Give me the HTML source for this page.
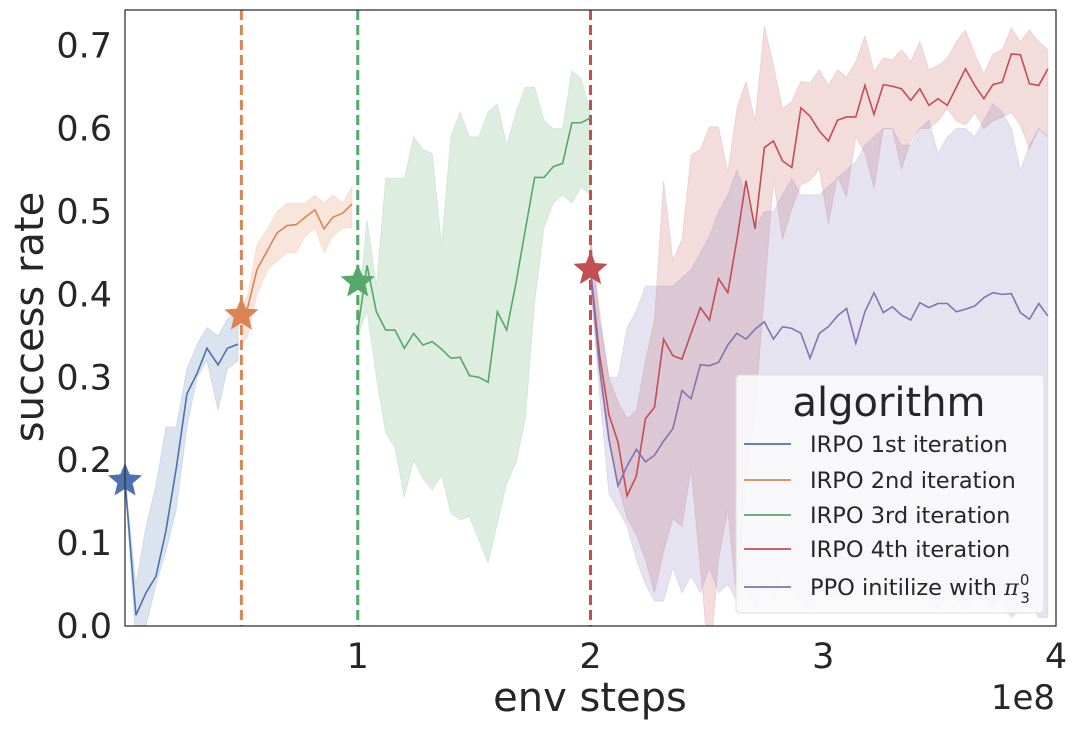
<!DOCTYPE html>
<html><head><meta charset="utf-8"><style>
html,body{margin:0;padding:0;background:#fff;width:1076px;height:730px;overflow:hidden}
svg{display:block;font-family:"DejaVu Sans","Liberation Sans",sans-serif}
</style></head><body>
<svg id="chart" width="1076" height="730">
<defs><clipPath id="plotclip"><rect x="125" y="10" width="931" height="616"/></clipPath></defs>
<g id="bands" clip-path="url(#plotclip)"></g>
<g id="vlines"></g>
<g id="lines" clip-path="url(#plotclip)"></g>
<g id="stars"></g>
<rect x="125" y="10" width="931" height="616" fill="none" stroke="#333" stroke-width="1.3"/>
<g id="yticks"></g>
<g id="xticks"></g>
<text x="43" y="317" transform="rotate(-90 43 317)" text-anchor="middle" font-size="40" fill="#262626">success rate</text>
<text x="590" y="711" text-anchor="middle" font-size="40" fill="#262626">env steps</text>
<text x="1055" y="709" text-anchor="end" font-size="34" fill="#262626">1e8</text>
<g>
<rect x="736" y="375" width="308" height="238" rx="4" fill="#f9f9fb" fill-opacity="0.9" stroke="#ddd" stroke-width="1"/>
<text x="889" y="416" text-anchor="middle" font-size="40" fill="#262626">algorithm</text>
<g id="legend-entries"></g>
</g>
</svg>
<script>
const NS="http://www.w3.org/2000/svg";
const xTicks=[1,2,3,4];
const yTicks=[0,0.1,0.2,0.3,0.4,0.5,0.6,0.7];
const seriesNames=["IRPO 1st iteration","IRPO 2nd iteration","IRPO 3rd iteration","IRPO 4th iteration","PPO initilize with "];
const colors=["#4c72b0","#dd8452","#55a868","#c44e52","#8172b3"];
// iteration 1
const x1=[0,0.047,0.09,0.133,0.176,0.22,0.266,0.31,0.352,0.4,0.44,0.486];
const m1=[0.176,0.013,0.04,0.06,0.115,0.19,0.28,0.305,0.335,0.315,0.335,0.34];
const lo1=[0.17,-0.02,0.0,0.05,0.09,0.14,0.24,0.3,0.32,0.26,0.31,0.32];
const hi1=[0.18,0.05,0.12,0.17,0.24,0.24,0.31,0.34,0.36,0.35,0.37,0.38];
// iteration 2
const x2=[0.5,0.528,0.567,0.614,0.653,0.696,0.735,0.774,0.816,0.855,0.893,0.936,0.975];
const m2=[0.37,0.385,0.43,0.454,0.474,0.483,0.484,0.493,0.502,0.479,0.493,0.498,0.509];
const lo2=[0.34,0.35,0.40,0.43,0.44,0.45,0.45,0.47,0.48,0.45,0.47,0.48,0.48];
const hi2=[0.38,0.40,0.46,0.48,0.50,0.51,0.51,0.51,0.52,0.51,0.52,0.51,0.53];
// iteration 3
const x3=[1.0,1.04,1.08,1.12,1.16,1.2,1.24,1.28,1.32,1.36,1.4,1.44,1.48,1.52,1.56,1.6,1.64,1.68,1.72,1.76,1.8,1.84,1.88,1.92,1.96,2.0];
const m3=[0.357,0.435,0.379,0.357,0.357,0.335,0.353,0.339,0.343,0.334,0.323,0.324,0.302,0.3,0.294,0.379,0.357,0.414,0.478,0.541,0.541,0.554,0.558,0.607,0.607,0.613];
const lo3=[0.35,0.38,0.30,0.233,0.215,0.155,0.2,0.178,0.164,0.182,0.136,0.128,0.132,0.104,0.076,0.124,0.172,0.197,0.25,0.39,0.48,0.51,0.52,0.51,0.53,0.52];
const hi3=[0.37,0.49,0.41,0.54,0.54,0.54,0.59,0.575,0.57,0.46,0.59,0.62,0.59,0.59,0.62,0.63,0.58,0.62,0.65,0.65,0.61,0.6,0.6,0.67,0.66,0.62];
// iteration 4 and PPO share x grid
const x4=[2.0,2.039,2.079,2.118,2.157,2.197,2.236,2.275,2.314,2.354,2.393,2.432,2.472,2.511,2.55,2.59,2.629,2.668,2.707,2.747,2.786,2.825,2.865,2.904,2.943,2.983,3.022,3.061,3.1,3.14,3.179,3.218,3.258,3.297,3.336,3.376,3.415,3.454,3.493,3.533,3.572,3.611,3.651,3.69,3.729,3.769,3.808,3.847,3.886,3.926,3.965];
const m4=[0.43,0.327,0.255,0.222,0.157,0.181,0.25,0.264,0.346,0.326,0.322,0.353,0.384,0.369,0.419,0.402,0.466,0.537,0.479,0.577,0.585,0.561,0.553,0.625,0.615,0.597,0.585,0.61,0.614,0.614,0.652,0.617,0.653,0.651,0.648,0.634,0.648,0.628,0.636,0.628,0.65,0.672,0.652,0.636,0.653,0.656,0.69,0.689,0.654,0.652,0.672];
const lo4=[0.41,0.3,0.22,0.17,0.13,0.11,0.08,0.04,0.09,0.13,0.12,0.19,0.07,-0.05,0.08,0.14,0.03,0.18,0.26,0.4,0.537,0.466,0.503,0.532,0.537,0.551,0.485,0.542,0.518,0.59,0.571,0.528,0.6,0.6,0.551,0.585,0.6,0.6,0.609,0.624,0.609,0.604,0.619,0.6,0.609,0.614,0.619,0.604,0.575,0.6,0.59];
const hi4=[0.47,0.37,0.30,0.27,0.25,0.26,0.32,0.37,0.537,0.441,0.466,0.568,0.575,0.602,0.602,0.547,0.624,0.657,0.609,0.724,0.676,0.624,0.633,0.657,0.655,0.671,0.652,0.671,0.662,0.681,0.712,0.669,0.685,0.683,0.695,0.681,0.705,0.671,0.676,0.685,0.705,0.719,0.69,0.666,0.69,0.695,0.721,0.705,0.719,0.705,0.695];
const m5=[0.43,0.312,0.226,0.169,0.193,0.213,0.198,0.206,0.223,0.238,0.284,0.274,0.315,0.314,0.318,0.339,0.353,0.346,0.358,0.367,0.346,0.361,0.359,0.353,0.323,0.353,0.361,0.374,0.383,0.341,0.379,0.402,0.378,0.385,0.375,0.369,0.39,0.384,0.389,0.389,0.379,0.382,0.386,0.396,0.402,0.4,0.401,0.378,0.37,0.389,0.374];
const lo5=[0.41,0.28,0.16,0.14,0.12,0.08,0.05,0.03,0.03,0.07,0.04,0.06,0.04,0.07,0.04,0.05,0.03,0.04,0.02,0.05,0.03,0.06,0.04,0.03,0.02,0.05,0.03,0.04,0.03,0.05,0.04,0.03,0.05,0.04,0.03,0.04,0.05,0.03,0.02,0.04,0.03,0.02,0.04,0.03,0.02,0.03,0.01,0.02,0.03,0.01,0.01];
const hi5=[0.47,0.38,0.3,0.3,0.36,0.38,0.41,0.41,0.41,0.41,0.42,0.43,0.45,0.47,0.5,0.52,0.55,0.52,0.48,0.5,0.5,0.52,0.54,0.52,0.52,0.52,0.53,0.54,0.55,0.56,0.58,0.59,0.6,0.6,0.58,0.58,0.6,0.61,0.57,0.59,0.6,0.6,0.59,0.61,0.63,0.62,0.6,0.55,0.58,0.6,0.59];
const starX=[0,0.5,1.0,2.0];
const starY=[0.175,0.375,0.415,0.43];
const vlineX=[0.5,1.0,2.0];

const X0=125,X1=1056,Y0=626,Y1=10;
const sx=v=>X0+v/4*(X1-X0);
const sy=v=>Y0-v/0.743*(Y0-Y1);
function mk(tag,attrs,parent){const e=document.createElementNS(NS,tag);for(const k in attrs)e.setAttribute(k,attrs[k]);parent.appendChild(e);return e;}
const bands=document.getElementById('bands'),lines=document.getElementById('lines');
const data=[[x1,m1,lo1,hi1],[x2,m2,lo2,hi2],[x3,m3,lo3,hi3],[x4,m4,lo4,hi4],[x4,m5,lo5,hi5]];
data.forEach((d,si)=>{
  const [xs,m,lo,hi]=d;
  let p=xs.map((x,i)=>sx(x)+','+sy(hi[i]));
  for(let i=xs.length-1;i>=0;i--)p.push(sx(xs[i])+','+sy(lo[i]));
  const b=mk('polygon',{points:p.join(' '),fill:colors[si],'fill-opacity':0.2,stroke:colors[si],'stroke-opacity':0.15},bands);
  
  
  const l=mk('polyline',{points:xs.map((x,i)=>sx(x)+','+sy(m[i])).join(' '),fill:'none',stroke:colors[si],'stroke-width':1.6},lines);
  
  
});
const vl=document.getElementById('vlines');
vlineX.forEach((v,i)=>{
  const e=mk('line',{x1:sx(v),x2:sx(v),y1:Y1,y2:Y0,stroke:colors[i+1],'stroke-width':3,'stroke-dasharray':'10,5'},vl);
  
  
});
const st=document.getElementById('stars');
function starPts(cx,cy,R,r){let s=[];for(let i=0;i<10;i++){const a=-Math.PI/2+i*Math.PI/5;const rr=i%2?r:R;s.push((cx+rr*Math.cos(a)).toFixed(1)+','+(cy+rr*Math.sin(a)).toFixed(1));}return s.join(' ');}
starX.forEach((v,i)=>{
  const e=mk('polygon',{points:starPts(sx(v),sy(starY[i]),18,8),fill:colors[i]},st);
  
  
});
const yt=document.getElementById('yticks');
yTicks.forEach(v=>{
  const t=mk('text',{x:112,y:sy(v)+12,'text-anchor':'end','font-size':35,fill:'#262626'},yt);
  t.textContent=v.toFixed(1);
  
  
});
const xt=document.getElementById('xticks');
xTicks.forEach(v=>{
  const t=mk('text',{x:sx(v),y:668,'text-anchor':'middle','font-size':35,fill:'#262626'},xt);
  t.textContent=v;
  
  
});
const le=document.getElementById('legend-entries');
seriesNames.forEach((n,i)=>{
  const y=[444,480,515,549,587][i];
  const l=mk('line',{x1:744,x2:791,y1:y,y2:y,stroke:colors[i],'stroke-width':1.8},le);
  
  
  const t=mk('text',{x:810,y:y+8,'font-size':22.5,fill:'#262626'},le);
  t.textContent=n;
  
  
  if(i===4){
    const s0=mk('tspan',{'font-style':'italic','font-family':'"DejaVu Serif",serif'},t);s0.textContent='π';
    const s1=mk('tspan',{dx:1,dy:-10,'font-size':15},t);s1.textContent='0';
    const s2=mk('tspan',{dx:-9,dy:18,'font-size':15},t);s2.textContent='3';
  }
});
</script>
</body></html>
